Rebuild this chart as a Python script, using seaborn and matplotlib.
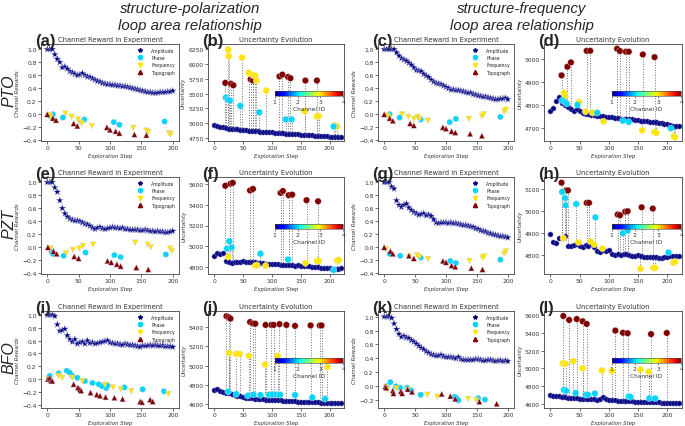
import numpy as np
import pandas as pd
import matplotlib
matplotlib.use("Agg")
import matplotlib.pyplot as plt
import seaborn as sns
from matplotlib.lines import Line2D
from matplotlib.cm import ScalarMappable
from matplotlib.colors import Normalize
from matplotlib.ticker import MultipleLocator

# ---- dados: recompensa do canal Amplitude (passo 0..200, a cada 4) ----
AMP_STEPS = list(range(0, 201, 4))
BASE_STEPS = list(range(0, 221, 5))

a_amp = [1.00, 1.00, 1.00, 0.92, 0.85, 0.80, 0.72, 0.73, 0.70, 0.66, 0.64, 0.62, 0.60,
         0.61, 0.63, 0.60, 0.58, 0.57, 0.55, 0.53, 0.51, 0.50, 0.48, 0.47, 0.46, 0.46,
         0.45, 0.45, 0.44, 0.44, 0.43, 0.43, 0.42, 0.41, 0.40, 0.39, 0.38, 0.37, 0.36,
         0.35, 0.34, 0.34, 0.33, 0.33, 0.33, 0.34, 0.34, 0.34, 0.35, 0.35, 0.36]
c_amp = [1.00, 1.00, 1.00, 1.00, 1.00, 0.95, 0.90, 0.86, 0.84, 0.82, 0.79, 0.76, 0.72,
         0.68, 0.67, 0.66, 0.62, 0.59, 0.57, 0.53, 0.50, 0.48, 0.47, 0.46, 0.44, 0.42,
         0.40, 0.38, 0.38, 0.37, 0.37, 0.36, 0.35, 0.34, 0.33, 0.33, 0.31, 0.30, 0.29,
         0.28, 0.27, 0.27, 0.26, 0.25, 0.24, 0.23, 0.23, 0.24, 0.24, 0.25, 0.23]
e_amp = [1.00, 1.00, 1.00, 0.92, 0.85, 0.72, 0.60, 0.52, 0.47, 0.44, 0.42, 0.41, 0.41,
         0.40, 0.38, 0.36, 0.35, 0.33, 0.30, 0.28, 0.30, 0.31, 0.29, 0.28, 0.29, 0.30,
         0.31, 0.30, 0.30, 0.29, 0.30, 0.28, 0.28, 0.27, 0.27, 0.27, 0.27, 0.26, 0.26,
         0.27, 0.26, 0.25, 0.25, 0.24, 0.25, 0.24, 0.24, 0.23, 0.23, 0.24, 0.25]
g_amp = [1.00, 1.00, 1.00, 0.93, 0.90, 0.72, 0.65, 0.62, 0.65, 0.67, 0.61, 0.57, 0.54,
         0.52, 0.50, 0.51, 0.52, 0.49, 0.50, 0.48, 0.43, 0.38, 0.37, 0.38, 0.38, 0.38,
         0.37, 0.38, 0.37, 0.37, 0.36, 0.35, 0.34, 0.34, 0.33, 0.32, 0.31, 0.29, 0.28,
         0.26, 0.25, 0.24, 0.22, 0.21, 0.20, 0.19, 0.18, 0.17, 0.17, 0.16, 0.15]
i_amp = [1.00, 1.00, 1.00, 0.98, 0.85, 0.75, 0.76, 0.78, 0.68, 0.62, 0.58, 0.62, 0.55,
         0.57, 0.58, 0.55, 0.60, 0.56, 0.57, 0.55, 0.56, 0.57, 0.58, 0.59, 0.60, 0.57,
         0.56, 0.55, 0.55, 0.54, 0.53, 0.55, 0.54, 0.53, 0.53, 0.52, 0.51, 0.50, 0.52,
         0.52, 0.52, 0.53, 0.52, 0.53, 0.52, 0.52, 0.52, 0.51, 0.51, 0.51, 0.50]
k_amp = [1.00, 1.00, 1.00, 0.98, 0.90, 0.82, 0.75, 0.71, 0.72, 0.70, 0.69, 0.66, 0.64,
         0.61, 0.58, 0.55, 0.53, 0.50, 0.48, 0.46, 0.45, 0.44, 0.44, 0.45, 0.43, 0.42,
         0.42, 0.42, 0.41, 0.40, 0.42, 0.39, 0.38, 0.38, 0.38, 0.38, 0.38, 0.39, 0.39,
         0.38, 0.37, 0.37, 0.38, 0.38, 0.37, 0.36, 0.37, 0.37, 0.36, 0.37, 0.36]

# ---- recompensas dos outros canais: (passos, valores) ----
a_phase = ([5, 9, 25, 59, 106, 115, 187], [-0.03, 0.0, -0.05, -0.08, -0.12, -0.16, -0.11])
a_freq = ([4, 5, 29, 39, 49, 52, 55, 71, 137, 158, 161, 194, 197],
          [-0.01, -0.04, 0.01, -0.04, -0.08, -0.12, -0.14, -0.18, -0.21, -0.25, -0.27, -0.29, -0.31])
a_topo = ([0, 9, 14, 42, 48, 95, 100, 109, 115, 139, 158],
          [0.0, -0.06, -0.09, -0.14, -0.18, -0.20, -0.24, -0.26, -0.29, -0.31, -0.32])

c_phase = ([9, 25, 59, 106, 116, 188], [0.0, -0.05, -0.08, -0.12, -0.07, -0.04])
c_freq = ([5, 7, 29, 39, 48, 54, 57, 71, 137, 158, 161, 194, 197],
          [-0.02, -0.05, 0.0, -0.04, -0.07, -0.04, -0.08, -0.10, -0.07, -0.03, 0.0, 0.04, 0.07])
c_topo = ([0, 9, 14, 42, 48, 95, 100, 109, 115, 139, 158],
          [0.0, -0.06, -0.10, -0.14, -0.17, -0.20, -0.22, -0.26, -0.28, -0.30, -0.33])

e_phase = ([7, 9, 26, 61, 107, 117, 189], [-0.07, -0.10, -0.13, -0.08, -0.12, -0.15, -0.11])
e_freq = ([5, 30, 41, 51, 57, 73, 140, 160, 165, 196, 199],
          [-0.02, -0.09, -0.04, -0.02, 0.02, 0.04, 0.07, 0.04, 0.0, -0.02, -0.06])
e_topo = ([1, 10, 15, 43, 50, 96, 102, 111, 117, 142, 161],
          [0.0, -0.06, -0.10, -0.14, -0.17, -0.21, -0.23, -0.26, -0.29, -0.31, -0.34])

g_phase = ([9, 26, 59, 107, 116, 188], [-0.10, -0.13, -0.16, -0.21, -0.24, -0.19])
g_freq = ([3, 41, 53, 57, 71, 138, 159, 162, 194, 197],
          [-0.03, -0.14, -0.12, -0.15, -0.18, -0.21, -0.16, -0.14, -0.10, -0.06])
g_topo = ([0, 10, 14, 40, 48, 95, 100, 109, 115, 141, 159],
          [0.0, -0.06, -0.10, -0.13, -0.17, -0.21, -0.23, -0.28, -0.30, -0.32, -0.34])

i_phase = ([4, 18, 31, 36, 40, 48, 60, 72, 82, 87, 94, 96, 123, 152, 186],
           [0.05, 0.09, 0.13, 0.10, 0.05, 0.02, -0.03, -0.06, -0.08, -0.11, -0.14, -0.10,
            -0.13, -0.16, -0.19])
i_freq = ([2, 18, 24, 40, 56, 92, 105, 117, 134, 193],
          [0.0, 0.05, 0.02, 0.02, -0.03, -0.09, -0.13, -0.16, -0.19, -0.23])
i_topo = ([1, 4, 6, 8, 42, 49, 52, 54, 69, 79, 84, 93, 107, 120, 148, 151, 164, 168],
          [0.0, 0.02, -0.03, -0.03, -0.08, -0.13, -0.16, -0.18, -0.21, -0.24, -0.26, -0.28,
           -0.29, -0.31, -0.35, -0.36, -0.32, -0.35])

k_phase = ([4, 10, 19, 26, 37, 44, 59, 114, 117, 120, 152, 163],
           [0.0, 0.06, 0.0, -0.02, -0.02, -0.06, -0.12, -0.15, -0.17, -0.20, -0.17, -0.19])
k_freq = ([3, 5, 20, 38, 70, 86, 136, 149], [-0.01, -0.05, -0.03, -0.05, -0.12, -0.15, -0.18, -0.20])
k_topo = ([2, 3, 14, 15, 27, 29, 38, 45, 93, 107, 115, 154, 182],
          [0.0, -0.02, -0.06, -0.10, -0.07, -0.10, -0.04, -0.08, -0.11, -0.14, -0.18, -0.22, -0.25])

# ---- incerteza: linha base (passo 0..220, a cada 5) ----
b_base = [4970, 4950, 4935, 4925, 4915, 4905, 4900, 4895, 4890, 4885, 4880, 4875, 4870,
          4868, 4862, 4858, 4855, 4850, 4848, 4842, 4840, 4835, 4832, 4828, 4825, 4820,
          4818, 4815, 4810, 4805, 4802, 4800, 4795, 4792, 4788, 4785, 4780, 4778, 4775,
          4772, 4768, 4765, 4762, 4760, 4768]
d_base = [4775, 4785, 4818, 4835, 4810, 4800, 4790, 4780, 4775, 4782, 4772, 4765, 4760,
          4758, 4755, 4755, 4752, 4750, 4750, 4748, 4746, 4745, 4744, 4742, 4740, 4740,
          4738, 4738, 4736, 4734, 4732, 4730, 4730, 4728, 4726, 4725, 4724, 4722, 4720,
          4716, 4714, 4710, 4706, 4705, 4706]
f_base = [4910, 4935, 4925, 4935, 4860, 4850, 4845, 4848, 4850, 4855, 4858, 4855, 4852,
          4850, 4848, 4845, 4842, 4838, 4835, 4832, 4830, 4832, 4828, 4826, 4824, 4822,
          4820, 4818, 4815, 4818, 4815, 4812, 4810, 4808, 4805, 4803, 4800, 4798, 4795,
          4793, 4790, 4788, 4785, 4788, 4790]
h_base = [4895, 4860, 4855, 4880, 4880, 4885, 4840, 4842, 4845, 4852, 4840, 4835, 4845,
          4840, 4852, 4835, 4820, 4815, 4825, 4820, 4825, 4805, 4800, 4805, 4800, 4803,
          4805, 4800, 4795, 4798, 4800, 4795, 4790, 4792, 4792, 4790, 4790, 4788, 4788,
          4790, 4792, 4795, 4795, 4797, 4798]
j_base = [4750, 4755, 4740, 4730, 4720, 4712, 4705, 4700, 4688, 4680, 4672, 4668, 4662,
          4660, 4656, 4654, 4652, 4650, 4648, 4646, 4645, 4643, 4641, 4640, 4638, 4636,
          4634, 4632, 4630, 4628, 4626, 4625, 4623, 4621, 4620, 4619, 4618, 4616, 4614,
          4612, 4611, 4610, 4610, 4610, 4612]
l_base = [4700, 4685, 4690, 4682, 4676, 4672, 4668, 4665, 4662, 4660, 4658, 4656, 4655,
          4652, 4650, 4648, 4646, 4650, 4675, 4648, 4642, 4638, 4636, 4634, 4632, 4630,
          4628, 4627, 4625, 4624, 4622, 4621, 4620, 4619, 4618, 4616, 4615, 4614, 4613,
          4612, 4612, 4611, 4610, 4610, 4612]

# ---- incerteza: canais escolhidos (passo, valor, ID do canal) ----
b_sel_step = [19, 29, 33, 63, 67, 113, 118, 128, 132, 158, 178,
              24, 25, 48, 60, 67, 71, 73, 90, 157, 178, 181, 209, 213,
              20, 23, 27, 45, 78, 124, 134, 207]
b_sel_val = [5680, 5665, 5640, 5740, 5720, 5790, 5820, 5780, 5760, 5720, 5720,
             6245, 6135, 6110, 5850, 5810, 5800, 5720, 5550, 5200, 5110, 5115, 4960, 4940,
             5430, 5400, 5380, 5290, 5180, 5060, 5060, 4940]
b_sel_ch = [4] * 11 + [3] * 13 + [2] * 8

d_sel_step = [19, 29, 35, 62, 68, 114, 119, 129, 134, 158, 178,
              23, 25, 49, 60, 72, 91, 157, 178, 181, 211, 213,
              20, 25, 28, 46, 80, 124, 134, 206]
d_sel_val = [4930, 4968, 4987, 5038, 5038, 5047, 5037, 5034, 5034, 5022, 5010,
             4853, 4838, 4812, 4770, 4765, 4727, 4688, 4680, 4677, 4662, 4657,
             4820, 4812, 4805, 4800, 4765, 4730, 4725, 4697]
d_sel_ch = [4] * 11 + [3] * 11 + [2] * 8

f_sel_step = [19, 28, 32, 62, 67, 115, 119, 129, 135, 160, 180,
              22, 26, 30, 80, 128, 207,
              24, 71, 74, 89, 158, 178, 181, 213, 216]
f_sel_val = [5580, 5600, 5608, 5535, 5550, 5512, 5530, 5490, 5495, 5442, 5432,
             4980, 5050, 4990, 4930, 4875, 4775,
             4900, 4815, 4820, 4815, 4840, 4860, 4860, 4865, 4870]
f_sel_ch = [4] * 11 + [2] * 6 + [3] * 9

h_sel_step = [19, 27, 30, 62, 66, 115, 119, 128, 132, 156, 175,
              20, 25, 26, 44, 77, 124, 132, 202,
              22, 48, 69, 75, 89, 154, 176, 179, 210, 213]
h_sel_val = [5130, 5095, 5095, 5038, 5038, 4985, 4982, 4998, 5000, 5018, 5012,
             5088, 5060, 5027, 5033, 4972, 4900, 4912, 4812,
             4878, 4858, 4862, 4848, 4830, 4738, 4742, 4742, 4765, 4770]
h_sel_ch = [4] * 11 + [2] * 8 + [3] * 10

j_sel_step = [21, 25, 28, 62, 67, 71, 89, 99, 103, 113, 125, 140, 167, 183, 186,
              26, 38, 44, 60, 88, 110, 196,
              24, 38, 58, 68, 80, 95, 101, 108, 114, 140, 170, 192]
j_sel_val = [5510, 5500, 5485, 5450, 5435, 5432, 5420, 5420, 5420, 5428, 5420, 5410,
             5415, 5415, 5415,
             5130, 5120, 5120, 5100, 5010, 5100, 4985,
             4730, 4705, 4688, 4700, 4695, 4698, 4702, 4700, 4698, 4695, 4670, 4655]
j_sel_ch = [4] * 15 + [3] * 7 + [2] * 12

l_sel_step = [22, 32, 45, 55, 62, 111, 124, 132, 172, 199,
              21, 26, 39, 55, 88, 105, 154, 168,
              23, 27, 43, 60, 64, 76, 134, 137, 169, 179]
l_sel_val = [5590, 5545, 5555, 5530, 5500, 5425, 5400, 5395, 5385, 5398,
             5055, 5050, 5080, 5000, 4975, 4970, 4985, 4960,
             4755, 4745, 4720, 4700, 4700, 4715, 4680, 4675, 4660, 4660]
l_sel_ch = [4] * 10 + [3] * 8 + [2] * 10

CHANNELS = ['Amplitude', 'Phase', 'Frequency', 'Topograph']

sns.set_theme(style="ticks")
plt.rcParams['font.family'] = 'DejaVu Sans'
plt.rcParams['axes.edgecolor'] = '#444444'
plt.rcParams['axes.linewidth'] = 0.6

jet = plt.get_cmap('jet')
norm = Normalize(1, 4)
CH_COLORS = {name: jet(norm(i + 1)) for i, name in enumerate(CHANNELS)}
CH_MARKERS = {'Amplitude': '*', 'Phase': 'o', 'Frequency': 'v', 'Topograph': '^'}
CH_SIZES = {'Amplitude': 30, 'Phase': 17, 'Frequency': 17, 'Topograph': 17}
TXT = '#333333'

W, H = 685, 427
fig = plt.figure(figsize=(W / 100, H / 100), dpi=100)

col_left = [41, 208, 378, 544]
col_width = [138, 136, 136, 138]
row_top = [45, 178, 312]
row_h = 97


def make_axes(row, col):
    l, w, t = col_left[col], col_width[col], row_top[row]
    return fig.add_axes([l / W, 1 - (t + row_h) / H, w / W, row_h / H])


def style_axes(ax, title, letter, ylabel):
    ax.set_title(title, fontsize=4.9, pad=2, color=TXT)
    ax.text(-0.045, 0.985, letter, transform=ax.transAxes, fontsize=12,
            fontweight='bold', family='Liberation Sans', ha='left', va='baseline')
    ax.set_xlabel('Exploration Step', fontsize=3.9, style='italic', labelpad=1.5, color=TXT)
    ax.set_ylabel(ylabel, fontsize=3.9, style='italic', labelpad=1.5, color=TXT)
    ax.tick_params(labelsize=4.3, length=2, width=0.5, pad=1.2, colors=TXT)
    ax.xaxis.set_major_locator(MultipleLocator(50))


def draw_reward(ax, amp, phase, freq, topo, letter, ylim):
    parts = [pd.DataFrame({'step': AMP_STEPS, 'reward': amp, 'channel': 'Amplitude'})]
    for name, (xs, ys) in zip(CHANNELS[1:], [phase, freq, topo]):
        parts.append(pd.DataFrame({'step': xs, 'reward': ys, 'channel': name}))
    df = pd.concat(parts, ignore_index=True)
    sns.scatterplot(data=df, x='step', y='reward', hue='channel', style='channel',
                    size='channel', palette=CH_COLORS, markers=CH_MARKERS,
                    sizes=CH_SIZES, edgecolor='#c8c8e8', linewidth=0.25,
                    legend=False, ax=ax)
    handles = [Line2D([], [], marker=CH_MARKERS[n], color=CH_COLORS[n], linestyle='',
                      markersize=3.0) for n in CHANNELS]
    ax.legend(handles, CHANNELS, loc='upper right', fontsize=3.3, frameon=False,
              handletextpad=1.6, labelspacing=0.5, borderaxespad=0.4)
    ax.set_xlim(-10, 210)
    ax.set_ylim(*ylim)
    ax.yaxis.set_major_locator(MultipleLocator(0.2))
    style_axes(ax, 'Channel Reward in Experiment', letter, 'Channel Rewards')


def draw_uncertainty(ax, base, sel_step, sel_val, sel_ch, letter, ylim, ystep):
    bottoms = np.interp(sel_step, BASE_STEPS, base)
    ax.vlines(sel_step, bottoms, sel_val, colors='#707070', linestyles=':',
              linewidth=0.7, zorder=1)
    sns.scatterplot(x=BASE_STEPS, y=base, color=jet(0.0), s=14, edgecolor='#9090d0',
                    linewidth=0.3, ax=ax, zorder=2)
    sns.scatterplot(x=sel_step, y=sel_val, hue=sel_ch, palette=jet, hue_norm=(1, 4),
                    s=22, edgecolor='#e8e8e8', linewidth=0.25, legend=False, ax=ax, zorder=3)
    ax.set_xlim(-11, 225)
    ax.set_ylim(*ylim)
    ax.yaxis.set_major_locator(MultipleLocator(ystep))
    style_axes(ax, 'Uncertainty Evolution', letter, 'Uncertainty')

    cax = ax.inset_axes([0.49, 0.465, 0.505, 0.055])
    cb = fig.colorbar(ScalarMappable(norm=norm, cmap=jet), cax=cax,
                      orientation='horizontal', ticks=[1, 2, 3, 4])
    cb.outline.set_linewidth(0.4)
    cax.tick_params(labelsize=4.3, length=1.5, width=0.4, pad=1, colors=TXT)
    cb.set_label('Channel ID', fontsize=4.2, labelpad=1, color=TXT)


draw_reward(make_axes(0, 0), a_amp, a_phase, a_freq, a_topo, '(a)', (-0.41, 1.08))
draw_uncertainty(make_axes(0, 1), b_base, b_sel_step, b_sel_val, b_sel_ch, '(b)',
                 (4694, 6340), 250)
draw_reward(make_axes(0, 2), c_amp, c_phase, c_freq, c_topo, '(c)', (-0.41, 1.08))
draw_uncertainty(make_axes(0, 3), d_base, d_sel_step, d_sel_val, d_sel_ch, '(d)',
                 (4641, 5068), 100)

draw_reward(make_axes(1, 0), e_amp, e_phase, e_freq, e_topo, '(e)', (-0.41, 1.08))
draw_uncertainty(make_axes(1, 1), f_base, f_sel_step, f_sel_val, f_sel_ch, '(f)',
                 (4736, 5664), 200)
draw_reward(make_axes(1, 2), g_amp, g_phase, g_freq, g_topo, '(g)', (-0.41, 1.08))
draw_uncertainty(make_axes(1, 3), h_base, h_sel_step, h_sel_val, h_sel_ch, '(h)',
                 (4714, 5156), 100)

draw_reward(make_axes(2, 0), i_amp, i_phase, i_freq, i_topo, '(i)', (-0.45, 1.06))
draw_uncertainty(make_axes(2, 1), j_base, j_sel_step, j_sel_val, j_sel_ch, '(j)',
                 (4561, 5564), 200)
draw_reward(make_axes(2, 2), k_amp, k_phase, k_freq, k_topo, '(k)', (-0.31, 1.08))
draw_uncertainty(make_axes(2, 3), l_base, l_sel_step, l_sel_val, l_sel_ch, '(l)',
                 (4551, 5646), 200)

# cabeçalhos e rótulos das linhas
for x, line1 in [(190, 'structure-polarization'), (522, 'structure-frequency')]:
    fig.text(x / W, 1 - 9 / H, line1, fontsize=10.8, style='italic',
             family='Liberation Sans', ha='center', va='center')
    fig.text(x / W, 1 - 26 / H, 'loop area relationship', fontsize=10.8, style='italic',
             family='Liberation Sans', ha='center', va='center')

for y, name in [(91, 'PTO'), (224, 'PZT'), (358, 'BFO')]:
    fig.text(9 / W, 1 - y / H, name, fontsize=11.5, style='italic', rotation=90,
             family='Liberation Sans', ha='center', va='center')

fig.savefig('out.png', dpi=100)
plt.close(fig)
